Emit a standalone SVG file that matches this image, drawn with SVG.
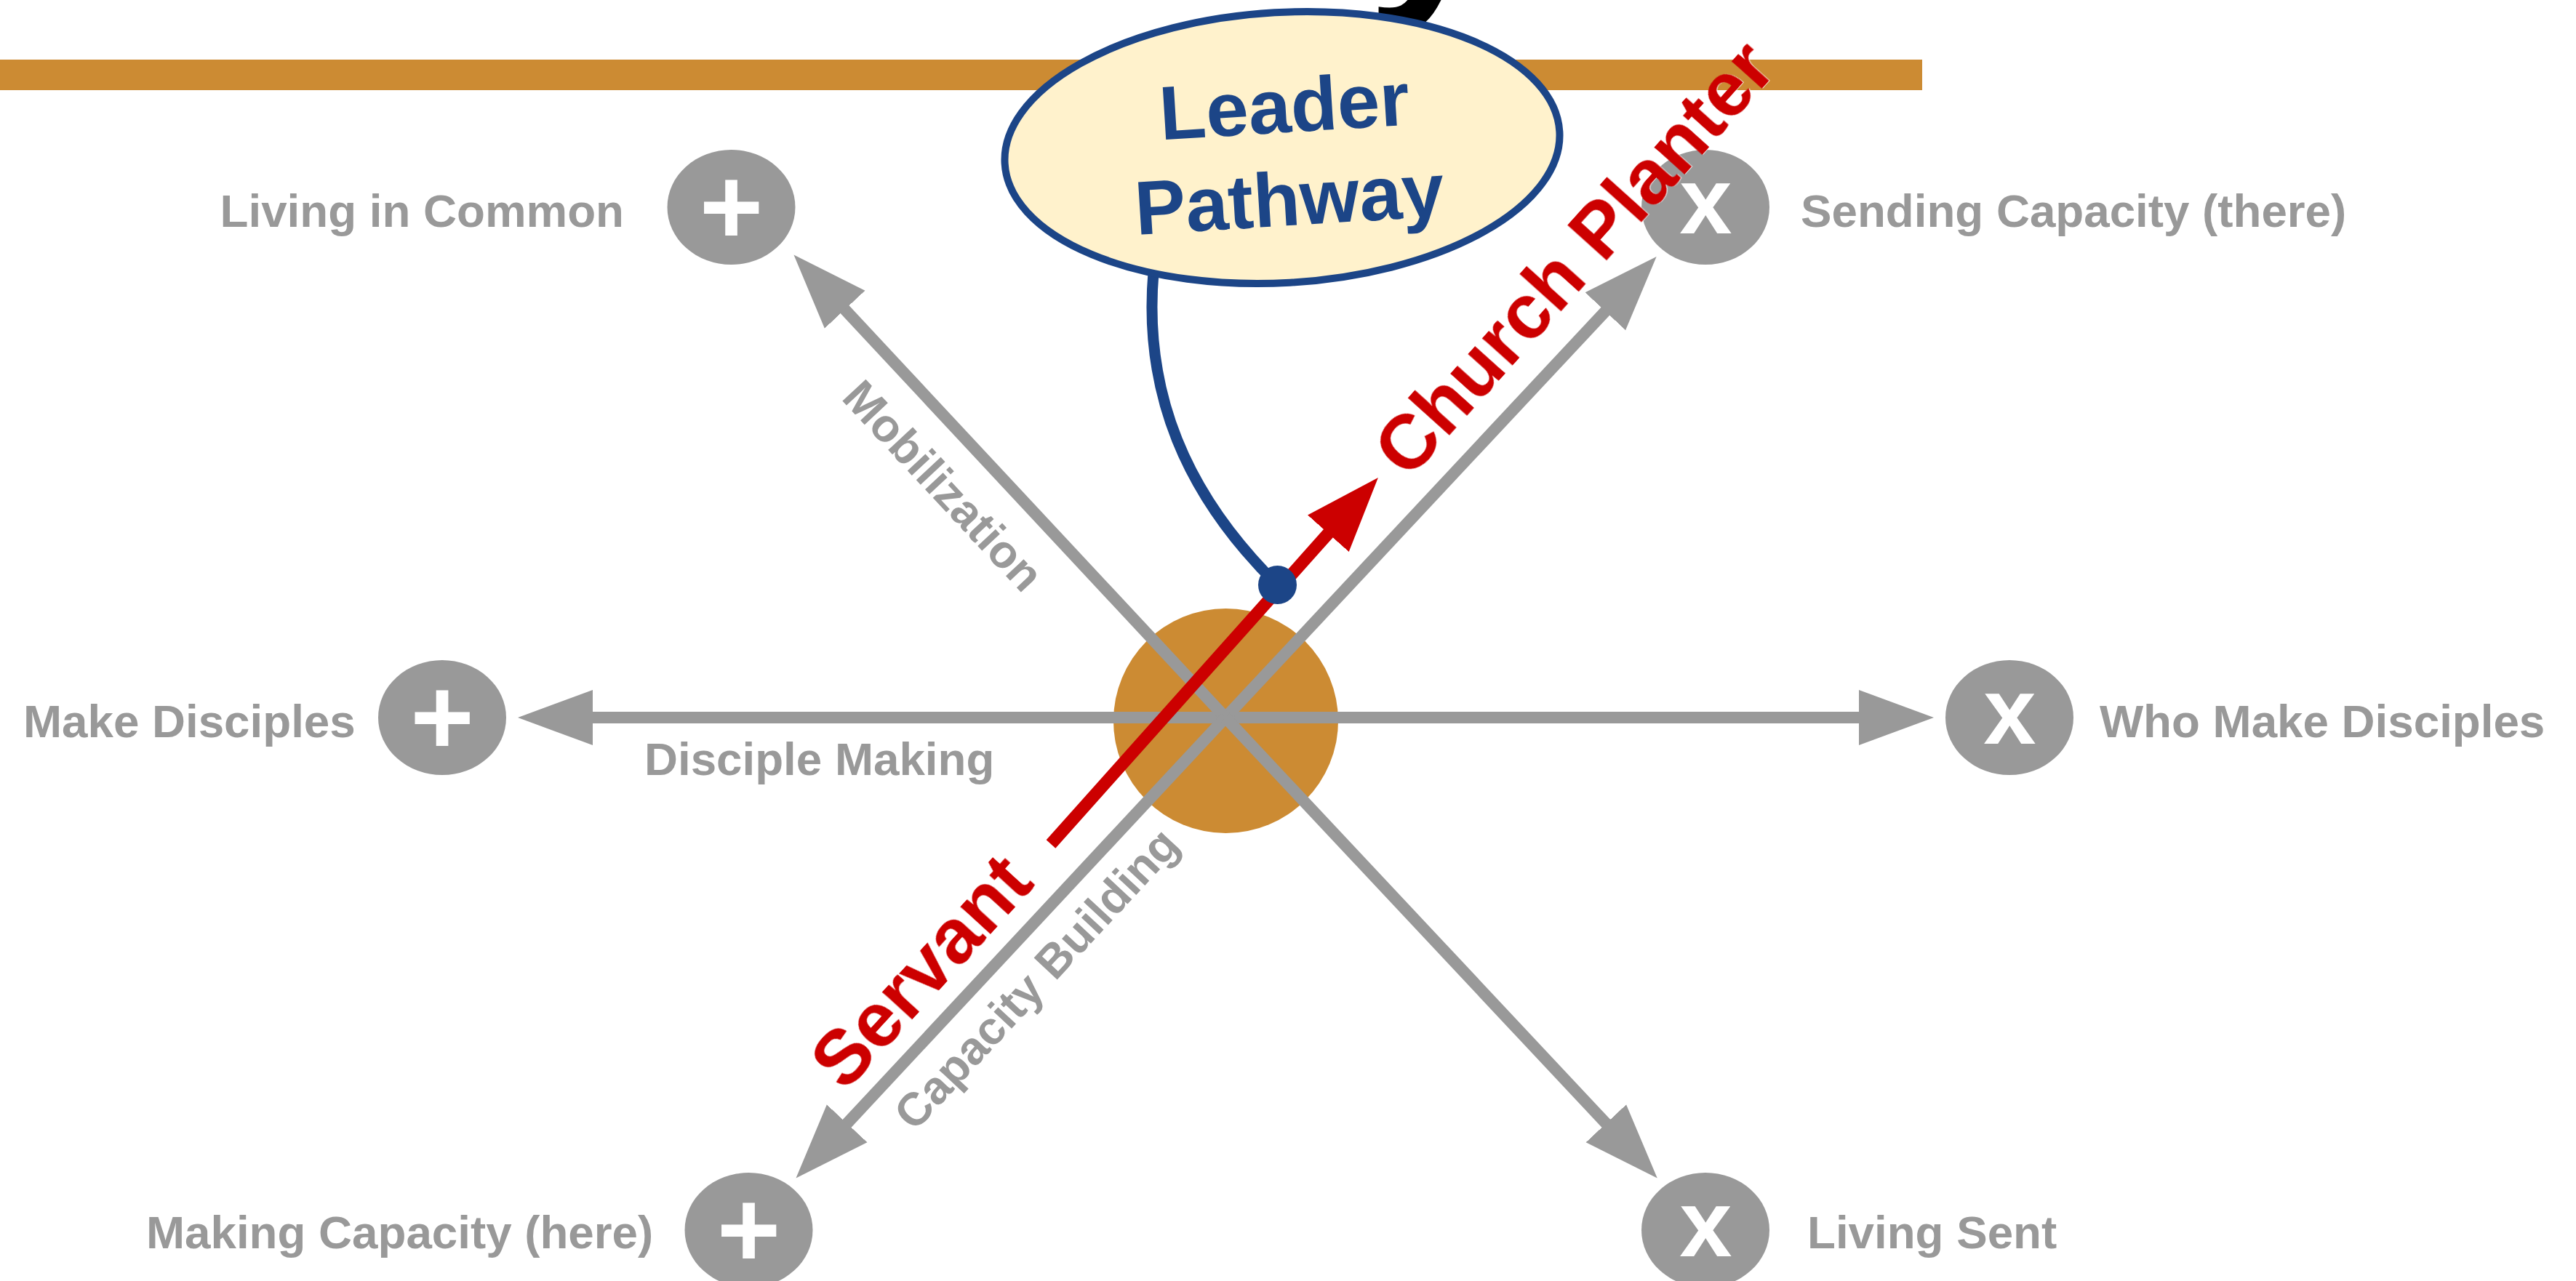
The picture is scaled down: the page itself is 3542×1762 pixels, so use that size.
<svg xmlns="http://www.w3.org/2000/svg" width="3542" height="1762" viewBox="0 0 3542 1762">
<style>
text{font-family:"Liberation Sans",Arial,sans-serif;font-weight:700}
.lbl{font-size:63.7px;fill:#999999}
.sym{font-size:130px;fill:#ffffff;text-anchor:middle}
.plus{font-size:150px;fill:#ffffff;text-anchor:middle}
.red{font-size:106px;fill:#cc0000;text-anchor:middle;filter:drop-shadow(1.5px 1.5px 0 rgba(255,255,255,.75))}
.blue{font-size:105px;fill:#1c4587;text-anchor:middle}
.disc{fill:#999999}
.ax{stroke:#999999;stroke-width:16;fill:none}
</style>
<defs>
<marker id="ag" markerUnits="userSpaceOnUse" markerWidth="104" markerHeight="78" refX="1" refY="39" orient="auto"><path d="M0,1L103,39L0,77Z" fill="#999999"/></marker>
<marker id="ar" markerUnits="userSpaceOnUse" markerWidth="104" markerHeight="78" refX="1" refY="39" orient="auto"><path d="M0,1L103,39L0,77Z" fill="#cc0000"/></marker>
</defs>
<rect width="3542" height="1762" fill="#ffffff"/>
<text x="1879" y="-24" style="font-size:320px;fill:#000000">y</text>
<rect id="bar" x="0" y="82" width="2643" height="42" fill="#cc8b33"/>
<g id="hub"><circle cx="1685.5" cy="991.5" r="154.5" fill="#cc8b33"/></g>
<g id="connectors">
<path class="ax" d="M1685,987L2557,987" marker-end="url(#ag)"/>
<path class="ax" d="M1685,987L814,987" marker-end="url(#ag)"/>
<path class="ax" d="M1685,987L2208,427.5" marker-end="url(#ag)"/>
<path class="ax" d="M1685,987L1161,425" marker-end="url(#ag)"/>
<path class="ax" d="M1685,987L1164,1546" marker-end="url(#ag)"/>
<path class="ax" d="M1685,987L2209,1546" marker-end="url(#ag)"/>
<path d="M1445,1161L1827,733" stroke="#cc0000" stroke-width="17" fill="none" marker-end="url(#ar)"/>
<path d="M1586,375C1572,540 1630,680 1756,804" stroke="#1c4587" stroke-width="15" fill="none"/>
</g>
<g id="pathway-dot"><circle cx="1756.5" cy="804.5" r="26.5" fill="#1c4587"/></g>
<g id="leader-pathway">
<ellipse cx="1763" cy="203" rx="382" ry="186" transform="rotate(-3.3 1763 203)" fill="#fff2cc" stroke="#1c4587" stroke-width="10"/>
<text class="blue" transform="translate(1768 182) rotate(-3.5)">Leader</text>
<text class="blue" transform="translate(1775 310) rotate(-3.5)">Pathway</text>
</g>
<g id="living-common"><ellipse class="disc" cx="1005.5" cy="285" rx="88" ry="79"/><text class="plus" x="1005.5" y="336">+</text><text class="lbl" x="858" y="312" text-anchor="end">Living in Common</text></g>
<g id="sending"><ellipse class="disc" cx="2345" cy="285" rx="88" ry="79"/><text class="sym" x="2345.5" y="321">x</text><text class="lbl" x="2476" y="312">Sending Capacity (there)</text></g>
<g id="make-disciples"><ellipse class="disc" cx="608" cy="987" rx="88" ry="79"/><text class="plus" x="608" y="1038">+</text><text class="lbl" x="32" y="1014">Make Disciples</text></g>
<g id="who-make"><ellipse class="disc" cx="2763" cy="987" rx="88" ry="79"/><text class="sym" x="2763.5" y="1023">x</text><text class="lbl" x="2887" y="1014">Who Make Disciples</text></g>
<g id="making-capacity"><ellipse class="disc" cx="1029.5" cy="1692" rx="88" ry="79"/><text class="plus" x="1029.5" y="1743">+</text><text class="lbl" x="201" y="1717">Making Capacity (here)</text></g>
<g id="living-sent"><ellipse class="disc" cx="2345" cy="1692" rx="88" ry="79"/><text class="sym" x="2345.5" y="1728">x</text><text class="lbl" x="2485" y="1717">Living Sent</text></g>
<g id="axis-labels">
<text class="lbl" x="886" y="1066">Disciple Making</text>
<text class="lbl" text-anchor="middle" transform="translate(1281 683) rotate(47)">Mobilization</text>
<text class="lbl" text-anchor="middle" transform="translate(1441 1361) rotate(-47)">Capacity Building</text>
</g>
<g id="path-labels">
<text class="red" transform="translate(1293 1360) rotate(-47.5)">Servant</text>
<text class="red" transform="translate(2191 379) rotate(-48)">Church Planter</text>
</g>
</svg>
